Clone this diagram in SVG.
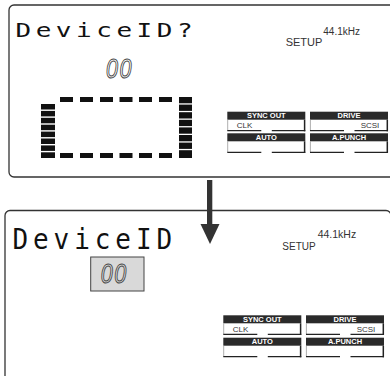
<svg xmlns="http://www.w3.org/2000/svg" width="390" height="376" viewBox="0 0 390 376">
<style>
.panel{fill:#fff;stroke:#333;stroke-width:1.3}
.lcd{font-family:"DejaVu Sans Mono","Liberation Mono",monospace;fill:#111}
.digits{font-family:"Liberation Sans",Arial,sans-serif;font-style:italic;font-size:27px;fill:none;stroke:#444;stroke-width:1}
.setup{font-family:"Liberation Sans",Arial,sans-serif;fill:#333}
.hdr{fill:#2a2a2a}
.htxt{font-family:"Liberation Sans",Arial,sans-serif;font-weight:bold;font-size:7.5px;fill:#fff;text-anchor:middle}
.btxt{font-family:"Liberation Sans",Arial,sans-serif;font-size:8px;fill:#333}
.thin{stroke:#999;stroke-width:0.8}
.thick{stroke:#222;stroke-width:1.5}
.bot{stroke:#222;stroke-width:1.2}
.seg{fill:#111}
</style>
<defs>
<g id="btn">
<rect class="hdr" x="0" y="0" width="78" height="8"/>
<line class="thin" x1="0.4" y1="8" x2="0.4" y2="19"/>
<line class="thick" x1="77.3" y1="8" x2="77.3" y2="19.6"/>
<line class="bot" x1="0" y1="19" x2="34" y2="19"/>
<line class="bot" x1="44.5" y1="19" x2="78" y2="19"/>
</g>
</defs>

<g id="panel-top">
<rect class="panel" x="9" y="5" width="395" height="172" rx="5"/>
<text class="lcd" transform="translate(15.5,37) scale(1.37,1)" x="0" y="0" font-size="19" letter-spacing="3.3">DeviceID?</text>
<text class="digits" transform="translate(106,78) scale(0.8,1)" x="0" y="0" letter-spacing="2">00</text>
<text class="setup" x="285.7" y="45.7" font-size="11">SETUP</text>
<text class="setup" x="323.3" y="35" font-size="10">44.1kHz</text>
<g id="block-top">
<rect class="seg" x="60" y="97" width="13" height="5"/>
<rect class="seg" x="80" y="97" width="13" height="5"/>
<rect class="seg" x="100" y="97" width="13" height="5"/>
<rect class="seg" x="119.5" y="97" width="13" height="5"/>
<rect class="seg" x="139" y="97" width="13" height="5"/>
<rect class="seg" x="159" y="97" width="13" height="5"/>
<rect class="seg" x="60" y="153" width="13" height="5"/>
<rect class="seg" x="80" y="153" width="13" height="5"/>
<rect class="seg" x="100" y="153" width="13" height="5"/>
<rect class="seg" x="119.5" y="153" width="13" height="5"/>
<rect class="seg" x="139" y="153" width="13" height="5"/>
<rect class="seg" x="159" y="153" width="13" height="5"/>
<rect class="seg" x="41" y="104" width="14" height="5.5"/>
<rect class="seg" x="41" y="110.9" width="14" height="5.5"/>
<rect class="seg" x="41" y="117.8" width="14" height="5.5"/>
<rect class="seg" x="41" y="124.7" width="14" height="5.5"/>
<rect class="seg" x="41" y="131.6" width="14" height="5.5"/>
<rect class="seg" x="41" y="138.5" width="14" height="5.5"/>
<rect class="seg" x="41" y="145.4" width="14" height="5.5"/>
<rect class="seg" x="41" y="152.3" width="14" height="5.7"/>
<rect class="seg" x="179" y="97" width="13" height="6.3"/>
<rect class="seg" x="179" y="104.6" width="13" height="6.3"/>
<rect class="seg" x="179" y="112.2" width="13" height="6.3"/>
<rect class="seg" x="179" y="119.8" width="13" height="6.3"/>
<rect class="seg" x="179" y="127.4" width="13" height="6.3"/>
<rect class="seg" x="179" y="135" width="13" height="6.3"/>
<rect class="seg" x="179" y="142.6" width="13" height="6.3"/>
<rect class="seg" x="179" y="150.2" width="13" height="7.8"/>
</g>
<g id="buttons-top" transform="translate(227.3,111.7)">
<use href="#btn"/>
<text class="htxt" x="39" y="6.5">SYNC OUT</text>
<text class="btxt" x="9.4" y="16.5">CLK</text>
<use href="#btn" x="82.7"/>
<text class="htxt" x="121.7" y="6.5">DRIVE</text>
<text class="btxt" x="152" y="16.5" text-anchor="end">SCSI</text>
<use href="#btn" y="21.6"/>
<text class="htxt" x="39" y="28.1">AUTO</text>
<use href="#btn" x="82.7" y="21.6"/>
<text class="htxt" x="121.7" y="28.1">A.PUNCH</text>
</g>
</g>

<g id="panel-bottom">
<rect class="panel" x="5" y="210.5" width="386" height="200" rx="5"/>
<text class="lcd" transform="translate(12.4,249.3) scale(0.93,1)" x="0" y="0" font-size="28" letter-spacing="5.3">DeviceID</text>
<rect x="90.7" y="257" width="53.3" height="34" fill="#d9d9d9" stroke="#444" stroke-width="1"/>
<text class="digits" transform="translate(100.7,283.3) scale(0.8,1)" x="0" y="0" letter-spacing="2">00</text>
<text class="setup" x="282.3" y="250" font-size="10">SETUP</text>
<text class="setup" x="317.7" y="237.7" font-size="10.5">44.1kHz</text>
<g id="buttons-bottom" transform="translate(223.3,315.3)">
<use href="#btn"/>
<text class="htxt" x="39" y="6.5">SYNC OUT</text>
<text class="btxt" x="9.4" y="16.5">CLK</text>
<use href="#btn" x="82.7"/>
<text class="htxt" x="121.7" y="6.5">DRIVE</text>
<text class="btxt" x="152" y="16.5" text-anchor="end">SCSI</text>
<use href="#btn" y="22.4"/>
<text class="htxt" x="39" y="28.9">AUTO</text>
<use href="#btn" x="82.7" y="22.4"/>
<text class="htxt" x="121.7" y="28.9">A.PUNCH</text>
</g>
</g>

<g id="connectors">
<rect x="207" y="180" width="5.3" height="46" fill="#333"/>
<polygon points="200.5,224 219.5,224 210,244" fill="#333"/>
</g>
</svg>
